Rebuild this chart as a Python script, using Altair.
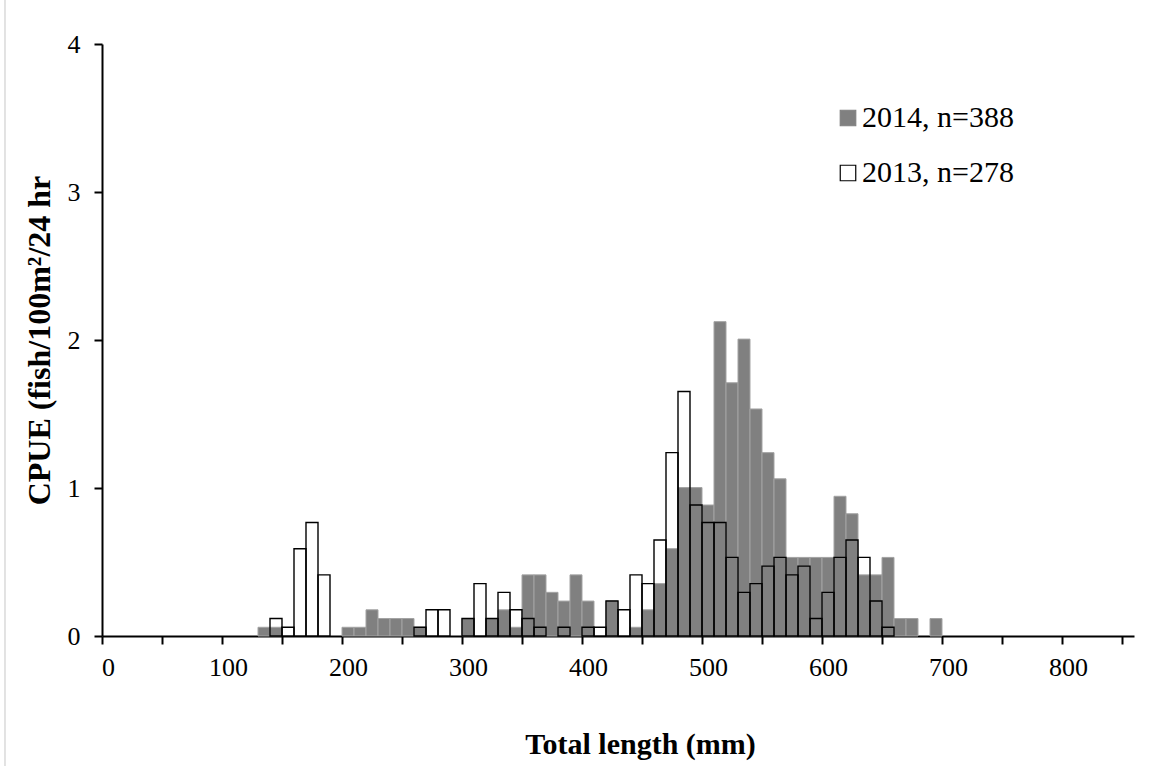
import altair as alt
import pandas as pd

# bin lower bounds (mm) and CPUE values
bins_2014 = [130, 140, 200, 210, 220, 230, 240, 250, 260, 300, 320, 330, 340, 350, 360, 370, 380,
             390, 400, 420, 440, 450, 460, 470, 480, 490, 500, 510, 520, 530, 540, 550, 560, 570,
             580, 590, 600, 610, 620, 630, 640, 650, 660, 670, 690]
cpue_2014 = [0.059, 0.059, 0.059, 0.059, 0.177, 0.118, 0.118, 0.118, 0.059, 0.118, 0.118, 0.177,
             0.059, 0.413, 0.413, 0.295, 0.236, 0.413, 0.236, 0.236, 0.059, 0.177, 0.354, 0.590,
             1.003, 1.003, 0.885, 2.124, 1.711, 2.006, 1.534, 1.239, 1.062, 0.531, 0.531, 0.531,
             0.531, 0.944, 0.826, 0.413, 0.413, 0.531, 0.118, 0.118, 0.118]

bins_2013 = [140, 150, 160, 170, 180, 260, 270, 280, 300, 310, 320, 330, 340, 350, 360, 380, 400,
             410, 420, 430, 440, 450, 460, 470, 480, 490, 500, 510, 520, 530, 540, 550, 560, 570,
             580, 590, 600, 610, 620, 630, 640, 650]
cpue_2013 = [0.118, 0.059, 0.590, 0.767, 0.413, 0.059, 0.177, 0.177, 0.118, 0.354, 0.118, 0.295,
             0.177, 0.118, 0.059, 0.059, 0.059, 0.059, 0.236, 0.177, 0.413, 0.354, 0.649, 1.239,
             1.652, 0.885, 0.767, 0.767, 0.531, 0.295, 0.354, 0.472, 0.531, 0.413, 0.472, 0.118,
             0.295, 0.531, 0.649, 0.531, 0.236, 0.059]

bin_width = 10
legend_labels = ["2014, n=388", "2013, n=278"]
x_ticks = list(range(0, 851, 50))
y_ticks = [0, 1, 2, 3, 4]

FONT = "Liberation Serif"

d14 = pd.DataFrame({"start": bins_2014, "cpue": cpue_2014})
d14["end"] = d14["start"] + bin_width
d13 = pd.DataFrame({"start": bins_2013, "cpue": cpue_2013})
d13["end"] = d13["start"] + bin_width

xscale = alt.Scale(domain=[0, 860], nice=False, zero=False)
yscale = alt.Scale(domain=[0, 4], nice=False)

xaxis = alt.Axis(
    values=x_ticks, title="Total length (mm)",
    labelExpr="datum.value % 100 == 0 ? datum.label : ''",
    labelOffset=6, labelFlush=False, labelOverlap=False,
    tickSize=8, tickWidth=2, tickColor="black", domainColor="black", domainWidth=2,
    labelFont=FONT, labelFontSize=26, labelColor="black", labelPadding=10,
    titleFont=FONT, titleFontSize=30, titleFontWeight="bold", titleColor="black",
    titlePadding=49, titleX=538, titleAlign="center", grid=False,
)
yaxis = alt.Axis(
    values=y_ticks, format="d", title="CPUE (fish/100m²/24 hr",
    tickSize=8, tickWidth=2, tickColor="black", domainColor="black", domainWidth=2,
    labelFont=FONT, labelFontSize=26, labelColor="black", labelPadding=14,
    titleFont=FONT, titleFontSize=32, titleFontWeight="bold", titleColor="black",
    titlePadding=11, grid=False,
)

white13 = alt.Chart(d13).mark_rect(fill="white").encode(
    x=alt.X("start:Q", scale=xscale, axis=xaxis), x2="end:Q",
    y=alt.Y("cpue:Q", scale=yscale, axis=yaxis),
)
grey14 = alt.Chart(d14).mark_rect(fill="#808080", stroke="#a3a3a3", strokeWidth=1).encode(
    x=alt.X("start:Q", scale=xscale), x2="end:Q",
    y=alt.Y("cpue:Q", scale=yscale),
)
outline13 = alt.Chart(d13).mark_rect(fillOpacity=0, stroke="black", strokeWidth=1.4).encode(
    x=alt.X("start:Q", scale=xscale), x2="end:Q",
    y=alt.Y("cpue:Q", scale=yscale),
)

leg = pd.DataFrame({
    "label": legend_labels,
    "fill": ["#808080", "white"],
    "stroke": ["#808080", "black"],
    "sym_y": [74, 129],
    "txt_y": [83, 138],
})
leg_sym = alt.Chart(leg).mark_point(shape="square", size=240, filled=True, strokeWidth=1.2, opacity=1).encode(
    x=alt.value(746),
    y=alt.Y("sym_y:Q", scale=None),
    fill=alt.Fill("fill:N", scale=None),
    stroke=alt.Stroke("stroke:N", scale=None),
)
leg_txt = alt.Chart(leg).mark_text(align="left", baseline="alphabetic", font=FONT, fontSize=30, color="black").encode(
    x=alt.value(760),
    y=alt.Y("txt_y:Q", scale=None),
    text="label:N",
)

border = alt.Chart(leg).mark_rule(color="#d9d9d9", strokeWidth=1).encode(
    x=alt.value(-97), y=alt.value(-44), y2=alt.value(722)
)

chart = alt.layer(white13, grey14, outline13, leg_sym, leg_txt, border).properties(
    width=1032, height=592,
    padding={"left": 102, "top": 44, "right": 27, "bottom": 130},
    autosize="none",
    background="white",
).configure_view(strokeWidth=0, stroke="transparent")

chart.save("out.html", embed_options={"renderer": "svg", "actions": False})
